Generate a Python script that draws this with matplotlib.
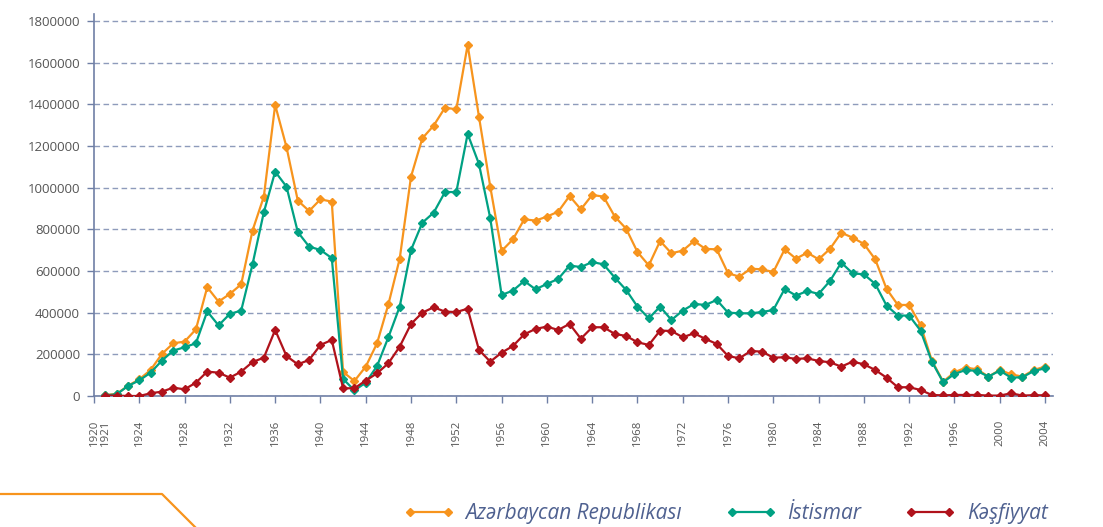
import matplotlib
matplotlib.use("Agg")
import matplotlib.pyplot as plt
from matplotlib.lines import Line2D
from matplotlib.transforms import ScaledTranslation

plt.rcParams['font.family'] = ['Open Sans', 'DejaVu Sans']

years = list(range(1921, 2005))

azerbaycan = [
    5000, 10000, 49000, 80000, 125000, 202000, 253000, 261000, 320000,          # 1921-1929
    522000, 453000, 490000, 536000, 794000, 957000, 1397000, 1195000, 938000, 888000,  # 1930-1939
    944000, 933000, 115000, 72000, 141000, 253000, 440000, 659000, 1053000, 1237000,   # 1940-1949
    1298000, 1384000, 1376000, 1685000, 1341000, 1004000, 696000, 752000, 848000, 842000,  # 1950-1959
    861000, 885000, 960000, 896000, 965000, 957000, 861000, 803000, 691000, 627000,  # 1960-1969
    744000, 685000, 698000, 744000, 706000, 704000, 589000, 573000, 611000, 608000,  # 1970-1979
    595000, 704000, 659000, 688000, 656000, 706000, 784000, 760000, 730000, 656000,  # 1980-1989
    514000, 437000, 437000, 341000, 170000, 69000, 114000, 136000, 128000, 93000,    # 1990-1999
    125000, 104000, 93000, 125000, 141000,                                           # 2000-2004
]
istismar = [
    3000, 8000, 48000, 75000, 112000, 170000, 218000, 234000, 253000,
    406000, 339000, 394000, 410000, 632000, 882000, 1077000, 1005000, 787000, 717000,
    701000, 662000, 82000, 27000, 64000, 144000, 282000, 429000, 701000, 832000,
    880000, 979000, 979000, 1258000, 1114000, 853000, 485000, 506000, 552000, 512000,
    538000, 562000, 626000, 619000, 643000, 632000, 568000, 509000, 429000, 373000,
    429000, 365000, 410000, 442000, 437000, 461000, 400000, 397000, 397000, 403000,
    413000, 514000, 482000, 504000, 490000, 552000, 640000, 589000, 584000, 538000,
    434000, 386000, 386000, 314000, 165000, 66000, 106000, 125000, 120000, 93000,
    122000, 88000, 90000, 120000, 133000,
]
kesfiyyat = [
    2000, 2000, 0, 0, 13000, 21000, 40000, 32000, 64000,
    117000, 112000, 88000, 117000, 163000, 184000, 317000, 192000, 152000, 173000,
    245000, 269000, 37000, 37000, 74000, 109000, 157000, 237000, 346000, 400000,
    426000, 405000, 403000, 419000, 221000, 165000, 208000, 240000, 296000, 322000,
    333000, 317000, 346000, 275000, 330000, 330000, 298000, 288000, 258000, 245000,
    314000, 312000, 282000, 301000, 274000, 250000, 192000, 181000, 216000, 213000,
    184000, 186000, 178000, 181000, 168000, 162000, 141000, 165000, 152000, 125000,
    88000, 42000, 42000, 29000, 5000, 3000, 5000, 5000, 5000, 2000,
    2000, 13000, 2000, 4000, 3000,
]

series_names = ['Azərbaycan Republikası', 'İstismar', 'Kəşfiyyat']
series_colors = ['#f7941d', '#00a183', '#b0121b']
xtick_years = [1920, 1921] + list(range(1924, 2005, 4))
ytick_vals = list(range(0, 1800001, 200000))

W, H = 1103, 527
fig = plt.figure(figsize=(W / 100, H / 100), dpi=100)
ax = fig.add_axes([94 / W, 1 - 396 / H, (1053 - 94) / W, (396 - 14) / H])

for name, vals, col in zip(series_names, [azerbaycan, istismar, kesfiyyat], series_colors):
    ax.plot(years, vals, color=col, lw=1.6, marker='D', markersize=4.2,
            markeredgecolor=col, label=name, zorder=3)

ax.set_xlim(1920, 2004.7)
ax.set_ylim(0, 1833600)
ax.set_yticks(ytick_vals)
ax.set_yticklabels([str(v) for v in ytick_vals])
ax.set_xticks(xtick_years)
ax.set_xticklabels([str(y) for y in xtick_years], rotation=90)
ax.xaxis.get_major_ticks()[1].tick1line.set_visible(False)
# nudge 1921 label a little right so it does not touch 1920
lbl = ax.get_xticklabels()[1]
lbl.set_transform(lbl.get_transform() + ScaledTranslation(3 / 100, 0, fig.dpi_scale_trans))

axis_col = '#6f7fa5'
for s in ['top', 'right']:
    ax.spines[s].set_visible(False)
for s in ['left', 'bottom']:
    ax.spines[s].set_color(axis_col)
    ax.spines[s].set_linewidth(1.2)

ax.tick_params(axis='y', length=5, width=1, color=axis_col, pad=5,
               labelsize=9.5, labelcolor='#555555')
ax.tick_params(axis='x', length=5, width=1, color=axis_col, pad=12,
               labelsize=8.2, labelcolor='#555555')
ax.yaxis.grid(True, color='#8e9bbb', linestyle=(0, (4, 2.5)), lw=1)
ax.set_axisbelow(True)

leg = fig.legend(loc='center', bbox_to_anchor=(0.658, 0.026), ncol=3, frameon=False,
                 numpoints=2, handlelength=2.4, handletextpad=0.55, columnspacing=2.1,
                 prop={'style': 'italic', 'size': 15})
for t in leg.get_texts():
    t.set_color('#4f6190')

# decorative orange rule at bottom-left
fig.add_artist(Line2D([0, 162 / W, 195 / W], [1 - 494 / H, 1 - 494 / H, 0],
                      color='#f7941d', lw=1.6, transform=fig.transFigure))

fig.savefig('out.png', dpi=100)
